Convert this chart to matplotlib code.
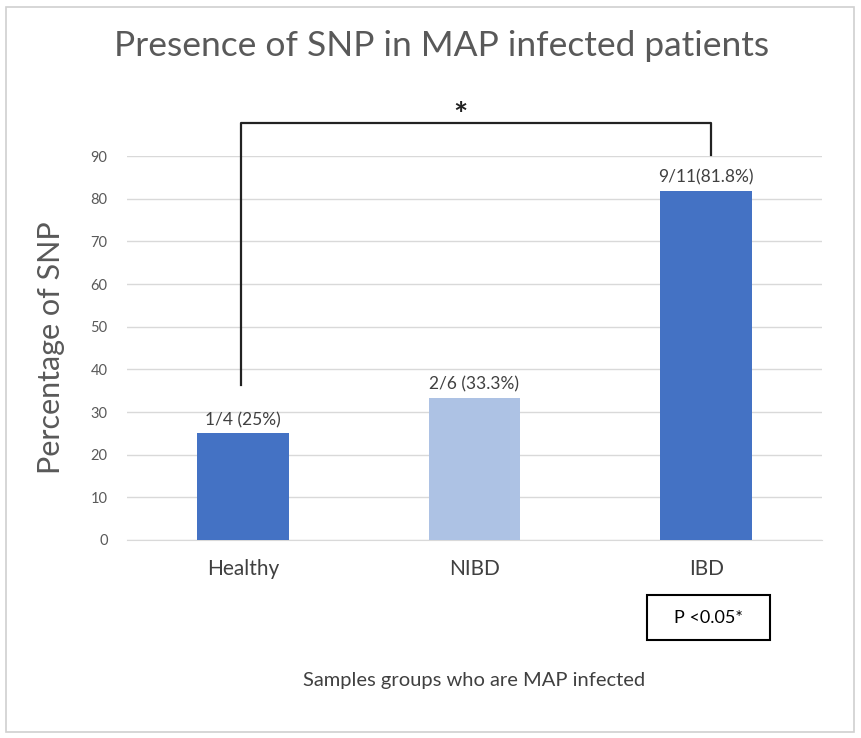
import matplotlib.pyplot as plt
from matplotlib.patches import Rectangle

# data
groups = ['Healthy', 'NIBD', 'IBD']
percent = [25, 33.3, 81.8]
bar_labels = ['1/4 (25%)', '2/6 (33.3%)', '9/11(81.8%)']
bar_colors = ['#4472C4', '#ADC2E4', '#4472C4']
yticks = [0, 10, 20, 30, 40, 50, 60, 70, 80, 90]

plt.rcParams['font.family'] = ['Lato', 'DejaVu Sans']

fig = plt.figure(figsize=(8.61, 7.38), dpi=100)
# light grey frame around the whole picture
fig.patches.append(Rectangle((0.007, 0.008), 0.985, 0.982, transform=fig.transFigure,
                             fill=False, edgecolor='#D0D0D0', linewidth=1.2))

ax = fig.add_axes([0.1475, 0.2683, 0.8072, 0.5203])
x = range(len(groups))
ax.bar(x, percent, width=0.395, color=bar_colors, zorder=3)
for i in x:
    ax.text(i, percent[i] + 1.2, bar_labels[i], ha='center', va='bottom',
            fontsize=12.5, color='#404040')

ax.set_xlim(-0.5, 2.5)
ax.set_ylim(0, 90)
ax.set_yticks(yticks)
ax.yaxis.grid(True, color='#D9D9D9', linewidth=1)
ax.set_axisbelow(True)
for s in ax.spines.values():
    s.set_visible(False)
ax.spines['bottom'].set_visible(True)
ax.spines['bottom'].set_color('#D9D9D9')
ax.tick_params(axis='both', length=0)
ax.tick_params(axis='y', labelsize=10.5, colors='#595959', pad=14)
ax.set_xticks(list(x))
ax.set_xticklabels(groups, fontsize=15, color='#404040')
ax.tick_params(axis='x', pad=14)

ax.set_ylabel('Percentage of SNP', fontsize=22, color='#595959', labelpad=18)
ax.set_xlabel('Samples groups who are MAP infected', fontsize=14.5, color='#404040', labelpad=67)

# significance bracket
ax.plot([-0.01, -0.01, 2.02, 2.02], [36.3, 97.7, 97.7, 90.2], color='#222222',
        linewidth=1.6, clip_on=False)
ax.text(0.94, 95.8, '*', ha='center', va='bottom', fontsize=24, fontweight='bold',
        color='#222222')

# p-value box
ax.add_patch(Rectangle((1.744, -23.4), 0.531, 10.5, fill=False, edgecolor='black',
                       linewidth=1.5, clip_on=False))
ax.text(2.01, -18.2, 'P <0.05*', ha='center', va='center', fontsize=13, color='black')

fig.text(0.513, 0.938, 'Presence of SNP in MAP infected patients', ha='center', va='center',
         fontsize=25.5, color='#595959')

fig.savefig('out.png', dpi=100)
